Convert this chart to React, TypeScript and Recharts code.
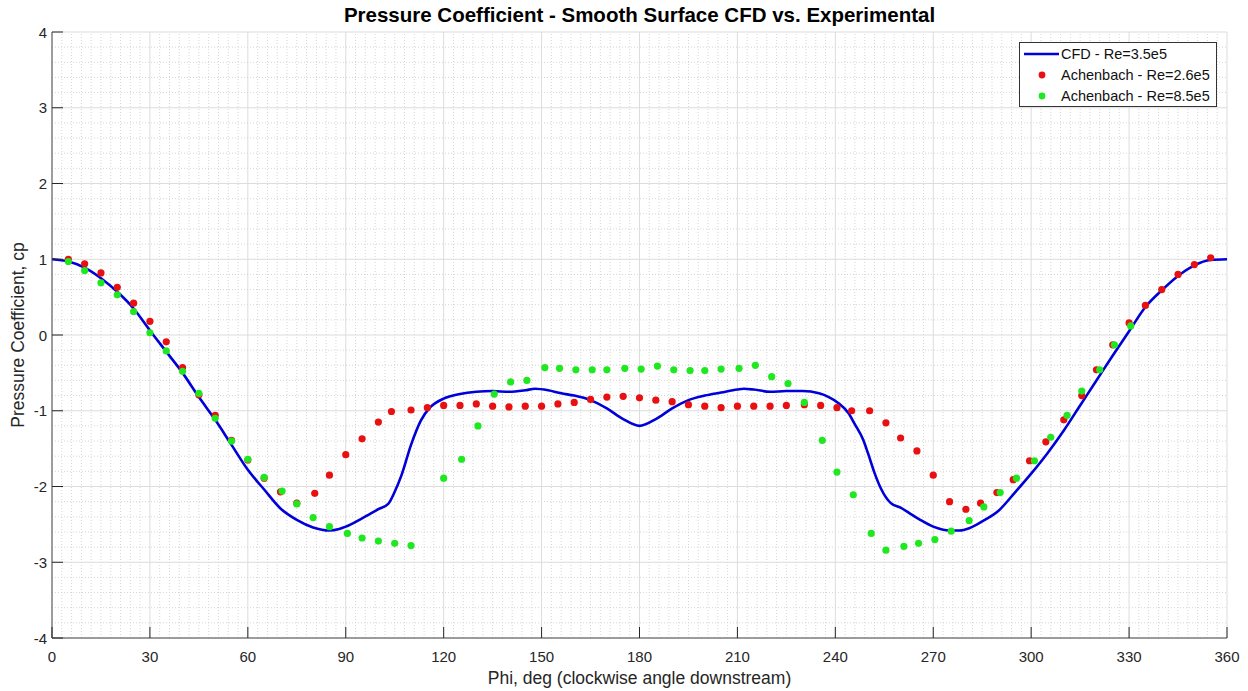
import React from "react";
import {
  ComposedChart,
  Line,
  Scatter,
  XAxis,
  YAxis,
  CartesianGrid,
  ReferenceLine,
  Label,
} from "recharts";

// angle ticks (deg) and cp ticks
const phiTicks = [0, 30, 60, 90, 120, 150, 180, 210, 240, 270, 300, 330, 360];
const cpTicks = [-4, -3, -2, -1, 0, 1, 2, 3, 4];
const phiMinor = Array.from({ length: 121 }, (_, i) => i * 3).filter((v) => v % 30 !== 0);
const cpMinor = Array.from({ length: 41 }, (_, i) => Math.round((-4 + i * 0.2) * 10) / 10).filter(
  (v) => !Number.isInteger(v)
);

// CFD - Re=3.5e5
const cfdPhi = [
  0, 5, 10, 15, 20, 25, 30, 35, 40, 45, 50, 55, 60, 65, 70, 75, 80, 85, 88, 90, 95, 100, 103, 105, 107,
  110, 113, 116, 120, 125, 130, 135, 140, 145, 148, 152, 156, 160, 165, 170, 175, 180, 185, 190, 195,
  200, 205, 210, 212, 215, 220, 225, 230, 235, 238, 241, 244, 246, 248.5, 250, 252, 254, 257, 260, 263,
  266, 270, 275, 278, 281, 285, 290, 295, 300, 305, 310, 315, 320, 325, 330, 335, 340, 345, 350, 355, 360,
];
const cfdCp = [
  1.0, 0.97, 0.89, 0.75, 0.57, 0.35, 0.06, -0.22, -0.5, -0.82, -1.12, -1.45, -1.78, -2.04, -2.29, -2.44,
  -2.54, -2.58, -2.56, -2.53, -2.42, -2.3, -2.23, -2.07, -1.86, -1.45, -1.13, -0.95, -0.84, -0.78, -0.75,
  -0.74, -0.75, -0.73, -0.71, -0.73, -0.77, -0.8, -0.86, -0.97, -1.11, -1.2, -1.11, -0.97, -0.86, -0.8,
  -0.76, -0.72, -0.71, -0.72, -0.75, -0.74, -0.74, -0.77, -0.82, -0.9, -1.03, -1.18, -1.38, -1.56, -1.82,
  -2.03, -2.22, -2.28, -2.36, -2.44, -2.53, -2.58, -2.58, -2.55, -2.46, -2.32, -2.08, -1.83, -1.56, -1.26,
  -0.93, -0.6, -0.27, 0.05, 0.37, 0.59, 0.78, 0.92, 0.99, 1.0,
];

// Achenbach - Re=2.6e5
const achLowPhi = [
  5, 10, 15, 20, 25, 30, 35, 40, 45, 50, 55, 60, 65, 70, 75, 80.5, 85, 90, 95, 100, 104, 110, 115, 120,
  125, 130, 135, 140, 145, 150, 155, 160, 165, 170, 175, 180, 185, 190, 195, 200, 205, 210, 215, 220, 225,
  230.5, 235.5, 240.5, 245, 250.5, 255.5, 260, 265, 270, 275, 280, 284.5, 289.5, 294.5, 299.5, 304.5, 310,
  315.5, 320, 325, 330, 335, 340, 345, 350, 355,
];
const achLowCp = [
  1.0, 0.94, 0.82, 0.63, 0.42, 0.18, -0.09, -0.43, -0.79, -1.06, -1.39, -1.65, -1.89, -2.07, -2.22, -2.09,
  -1.85, -1.58, -1.37, -1.15, -1.01, -0.99, -0.96, -0.93, -0.93, -0.91, -0.94, -0.95, -0.94, -0.94, -0.91,
  -0.89, -0.85, -0.82, -0.81, -0.83, -0.86, -0.88, -0.92, -0.94, -0.96, -0.94, -0.94, -0.94, -0.93, -0.92,
  -0.93, -0.96, -1.0, -1.0, -1.16, -1.36, -1.53, -1.85, -2.2, -2.3, -2.22, -2.08, -1.91, -1.66, -1.41,
  -1.12, -0.8, -0.46, -0.13, 0.16, 0.39, 0.6, 0.8, 0.93, 1.02,
];

// Achenbach - Re=8.5e5
const achHighPhi = [
  5, 10, 15, 20, 25, 30, 35, 40, 45, 50, 55, 60, 65, 70.5, 75, 80, 85, 90.5, 95, 100, 105, 110, 120,
  125.5, 130.5, 135.5, 140.5, 145.5, 151, 155.5, 160.5, 165.5, 170, 175.5, 180.5, 185.5, 190.5, 195.5,
  200, 205, 210.5, 215.5, 220.5, 225.5, 230.5, 236, 240.5, 245.5, 251, 255.5, 261, 265.5, 270.5, 275.5,
  281, 285.5, 290.5, 295.5, 301, 306, 311, 315.5, 321, 325.5, 330.5,
];
const achHighCp = [
  0.97, 0.85, 0.69, 0.53, 0.31, 0.03, -0.21, -0.48, -0.77, -1.1, -1.4, -1.64, -1.88, -2.06, -2.23, -2.41,
  -2.53, -2.62, -2.68, -2.72, -2.75, -2.78, -1.89, -1.64, -1.2, -0.78, -0.62, -0.6, -0.43, -0.44, -0.46,
  -0.46, -0.46, -0.44, -0.45, -0.41, -0.46, -0.47, -0.47, -0.45, -0.44, -0.4, -0.55, -0.64, -0.89, -1.39,
  -1.81, -2.11, -2.62, -2.84, -2.79, -2.75, -2.7, -2.59, -2.45, -2.27, -2.08, -1.89, -1.66, -1.35, -1.06,
  -0.74, -0.46, -0.13, 0.12,
];

const toRows = (phi: number[], cp: number[]) => phi.map((p, i) => ({ phi: p, cp: cp[i] }));
const cfdData = toRows(cfdPhi, cfdCp);
const lowData = toRows(achLowPhi, achLowCp);
const highData = toRows(achHighPhi, achHighCp);

const FONT = '"Liberation Sans", Arial, Helvetica, sans-serif';
const BLUE = "#0000d8";
const RED = "#e81010";
const GREEN = "#20e820";
const INK = "#262626";

const XTick = ({ x, y, payload }: any) => (
  <g>
    <line x1={x} y1={y} x2={x} y2={y - 11} stroke={INK} strokeWidth={1} />
    <text x={x} y={y + 24} textAnchor="middle" fontSize={15} fill={INK} fontFamily={FONT}>
      {payload.value}
    </text>
  </g>
);

const YTick = ({ x, y, payload }: any) => (
  <g>
    <line x1={x} y1={y} x2={x + 11} y2={y} stroke={INK} strokeWidth={1} />
    <text x={x - 5} y={y + 5.5} textAnchor="end" fontSize={15} fill={INK} fontFamily={FONT}>
      {payload.value}
    </text>
  </g>
);

const dot = (color: string) => (props: any) =>
  <circle cx={props.cx} cy={props.cy} r={3.6} fill={color} />;

const Legend = () => (
  <div
    style={{
      position: "absolute",
      left: 1019,
      top: 42,
      width: 196,
      height: 63,
      border: "1px solid #333",
      background: "#fff",
    }}
  >
    <svg width={196} height={63} style={{ position: "absolute", left: 0, top: 0 }}>
      <line x1={4} y1={11} x2={39} y2={11} stroke={BLUE} strokeWidth={2.5} />
      <circle cx={22} cy={32} r={3.4} fill={RED} />
      <circle cx={22} cy={53} r={3.4} fill={GREEN} />
      <text x={41} y={16} fontSize={14.5} fontFamily={FONT} fill="#111">CFD - Re=3.5e5</text>
      <text x={41} y={37} fontSize={14.5} fontFamily={FONT} fill="#111">Achenbach - Re=2.6e5</text>
      <text x={41} y={58} fontSize={14.5} fontFamily={FONT} fill="#111">Achenbach - Re=8.5e5</text>
    </svg>
  </div>
);

export default function App() {
  return (
    <div style={{ position: "absolute", left: 0, top: 0, width: 1248, height: 691, background: "#fff" }}>
      <div
        style={{
          position: "absolute",
          left: 52,
          width: 1175,
          top: 3,
          textAlign: "center",
          fontFamily: FONT,
          fontWeight: "bold",
          fontSize: 20.5,
          lineHeight: "24px",
          color: "#000",
        }}
      >
        Pressure Coefficient - Smooth Surface CFD vs. Experimental
      </div>
      <ComposedChart width={1248} height={691} margin={{ top: 32, right: 21, left: 0, bottom: 0 }}>
        <CartesianGrid stroke="#dcdcdc" />
        {phiMinor.map((v) => (
          <ReferenceLine key={"x" + v} x={v} stroke="#d6d6d6" strokeDasharray="1 2" />
        ))}
        {cpMinor.map((v) => (
          <ReferenceLine key={"y" + v} y={v} stroke="#d6d6d6" strokeDasharray="1 2" />
        ))}
        <XAxis
          type="number"
          dataKey="phi"
          domain={[0, 360]}
          ticks={phiTicks}
          height={53}
          tickSize={0}
          tickMargin={0}
          tick={<XTick />}
          axisLine={{ stroke: "#4d4d4d" }}
          allowDataOverflow
        >
          <Label
            content={({ viewBox }: any) => (
              <text
                x={viewBox.x + viewBox.width / 2}
                y={viewBox.y + 46}
                textAnchor="middle"
                fontSize={17.5}
                fill={INK}
                fontFamily={FONT}
              >
                Phi, deg (clockwise angle downstream)
              </text>
            )}
          />
        </XAxis>
        <YAxis
          type="number"
          domain={[-4, 4]}
          ticks={cpTicks}
          width={52}
          tickSize={0}
          tickMargin={0}
          tick={<YTick />}
          axisLine={{ stroke: "#4d4d4d" }}
          allowDataOverflow
        >
          <Label
            content={({ viewBox }: any) => {
              const cy = viewBox.y + viewBox.height / 2;
              return (
                <text
                  x={24}
                  y={cy}
                  transform={`rotate(-90, 24, ${cy})`}
                  textAnchor="middle"
                  fontSize={17.5}
                  fill={INK}
                  fontFamily={FONT}
                >
                  Pressure Coefficient, cp
                </text>
              );
            }}
          />
        </YAxis>
        <Line
          data={cfdData}
          dataKey="cp"
          type="monotone"
          stroke={BLUE}
          strokeWidth={2.6}
          dot={false}
          activeDot={false}
          isAnimationActive={false}
        />
        <Scatter data={lowData} dataKey="cp" shape={dot(RED)} isAnimationActive={false} />
        <Scatter data={highData} dataKey="cp" shape={dot(GREEN)} isAnimationActive={false} />
      </ComposedChart>
      <Legend />
    </div>
  );
}
